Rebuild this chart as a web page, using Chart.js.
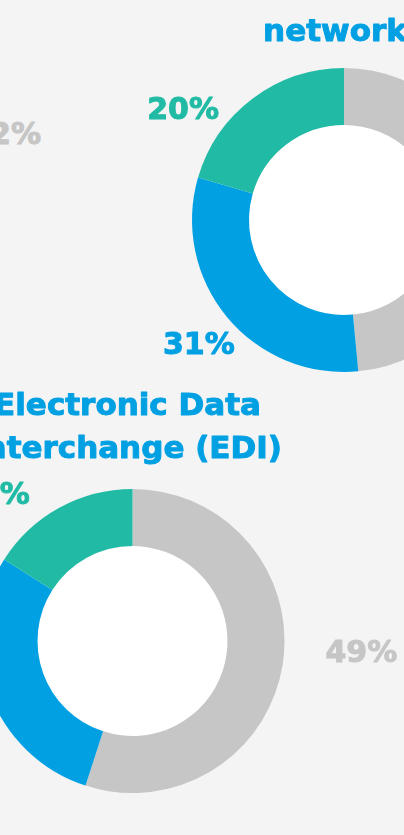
<!DOCTYPE html>
<html lang="en">
<head>
    <meta charset="UTF-8">
    <meta name="viewport" content="width=device-width, initial-scale=1">
    <title>Donut shares</title>
    <script src="https://cdn.jsdelivr.net/npm/chart.js"></script>
    <style>
        html, body { margin: 0; padding: 0; width: 404px; height: 835px; overflow: hidden; background: #f4f4f4; }
        .box { position: absolute; }
        #networkBox { left: 130px; top: -20px; }
        #ediBox { left: -139px; top: 380px; }
        #stray { position: absolute; right: 363px; top: 116px; line-height: 30px; white-space: nowrap;
                 font: bold 30px "DejaVu Sans", sans-serif; color: #c6c6c6; -webkit-text-stroke: 1px #c6c6c6; }
    </style>
</head>
<body>
    <div id="stray">52%</div>
    <div class="box" id="networkBox"><canvas id="networkChart" width="428" height="480"></canvas></div>
    <div class="box" id="ediBox"><canvas id="ediChart" width="543" height="522"></canvas></div>

    <script>
        // segments go clockwise from 12 o'clock: grey, blue, green
        var segments = ['Grey', 'Blue', 'Green'];
        var segmentColors = ['#c6c6c6', '#00a0e3', '#21bba5'];

        var networkTitle = ['network'];
        var networkValues = [48.5, 31, 20.5];
        var networkTexts = ['49%', '31%', '20%'];

        var ediTitle = ['Electronic Data', 'Interchange (EDI)'];
        var ediValues = [55, 29, 16];
        var ediTexts = ['49%', '29%', '16%'];

        var FONT = '"DejaVu Sans", sans-serif';

        // paints the white hole, the title above the ring and the % labels around it
        var ringText = {
            id: 'ringText',
            beforeDatasetsDraw: function (chart) {
                var arc = chart.getDatasetMeta(0).data[0];
                var ctx = chart.ctx;
                ctx.save();
                ctx.fillStyle = '#ffffff';
                ctx.beginPath();
                ctx.arc(arc.x, arc.y, arc.innerRadius, 0, Math.PI * 2);
                ctx.fill();
                ctx.restore();
            },
            afterDatasetsDraw: function (chart, args, opts) {
                var arc = chart.getDatasetMeta(0).data[0];
                var cx = arc.x, cy = arc.y;
                var ctx = chart.ctx;
                var colors = chart.data.datasets[0].backgroundColor;
                ctx.save();
                ctx.textAlign = 'center';
                ctx.textBaseline = 'alphabetic';
                ctx.lineWidth = 1;
                ctx.lineJoin = 'round';

                ctx.font = 'bold ' + opts.titleSize + 'px ' + FONT;
                ctx.fillStyle = ctx.strokeStyle = '#00a0e3';
                opts.title.forEach(function (line, i) {
                    var y = cy + opts.titleBase + i * opts.titleLead;
                    ctx.fillText(line, cx + opts.titleDx, y);
                    ctx.strokeText(line, cx + opts.titleDx, y);
                });

                ctx.font = 'bold ' + opts.labelSize + 'px ' + FONT;
                var capHalf = opts.labelSize * 0.729 / 2;
                opts.spots.forEach(function (s, i) {
                    var a = s[0] * Math.PI / 180;
                    var x = cx + Math.sin(a) * s[1];
                    var y = cy - Math.cos(a) * s[1] + capHalf;
                    ctx.fillStyle = ctx.strokeStyle = colors[i];
                    ctx.fillText(opts.texts[i], x, y);
                    ctx.strokeText(opts.texts[i], x, y);
                });
                ctx.restore();
            }
        };

        function makeDonut(id, values, texts, title, textOpts) {
            var ctx = document.getElementById(id).getContext('2d');
            return new Chart(ctx, {
                type: 'doughnut',
                data: {
                    labels: segments,
                    datasets: [{
                        data: values,
                        backgroundColor: segmentColors,
                        borderWidth: 0,
                        hoverOffset: 0
                    }]
                },
                options: {
                    responsive: false,
                    animation: false,
                    radius: 152,
                    cutout: '62.5%',
                    layout: { padding: 0 },
                    plugins: {
                        legend: { display: false },
                        tooltip: { enabled: false },
                        ringText: Object.assign({ title: title, texts: texts }, textOpts)
                    }
                },
                plugins: [ringText]
            });
        }

        makeDonut('networkChart', networkValues, networkTexts, networkTitle, {
            titleSize: 31, titleDx: -9, titleBase: -179, titleLead: 43,
            labelSize: 30,
            spots: [[87, 220], [229.8, 190], [304.8, 196]]
        });

        makeDonut('ediChart', ediValues, ediTexts, ediTitle, {
            titleSize: 31, titleDx: -5, titleBase: -226, titleLead: 43.4,
            labelSize: 30,
            spots: [[92.4, 229], [250, 205], [316.9, 203]]
        });
    </script>
</body>
</html>
